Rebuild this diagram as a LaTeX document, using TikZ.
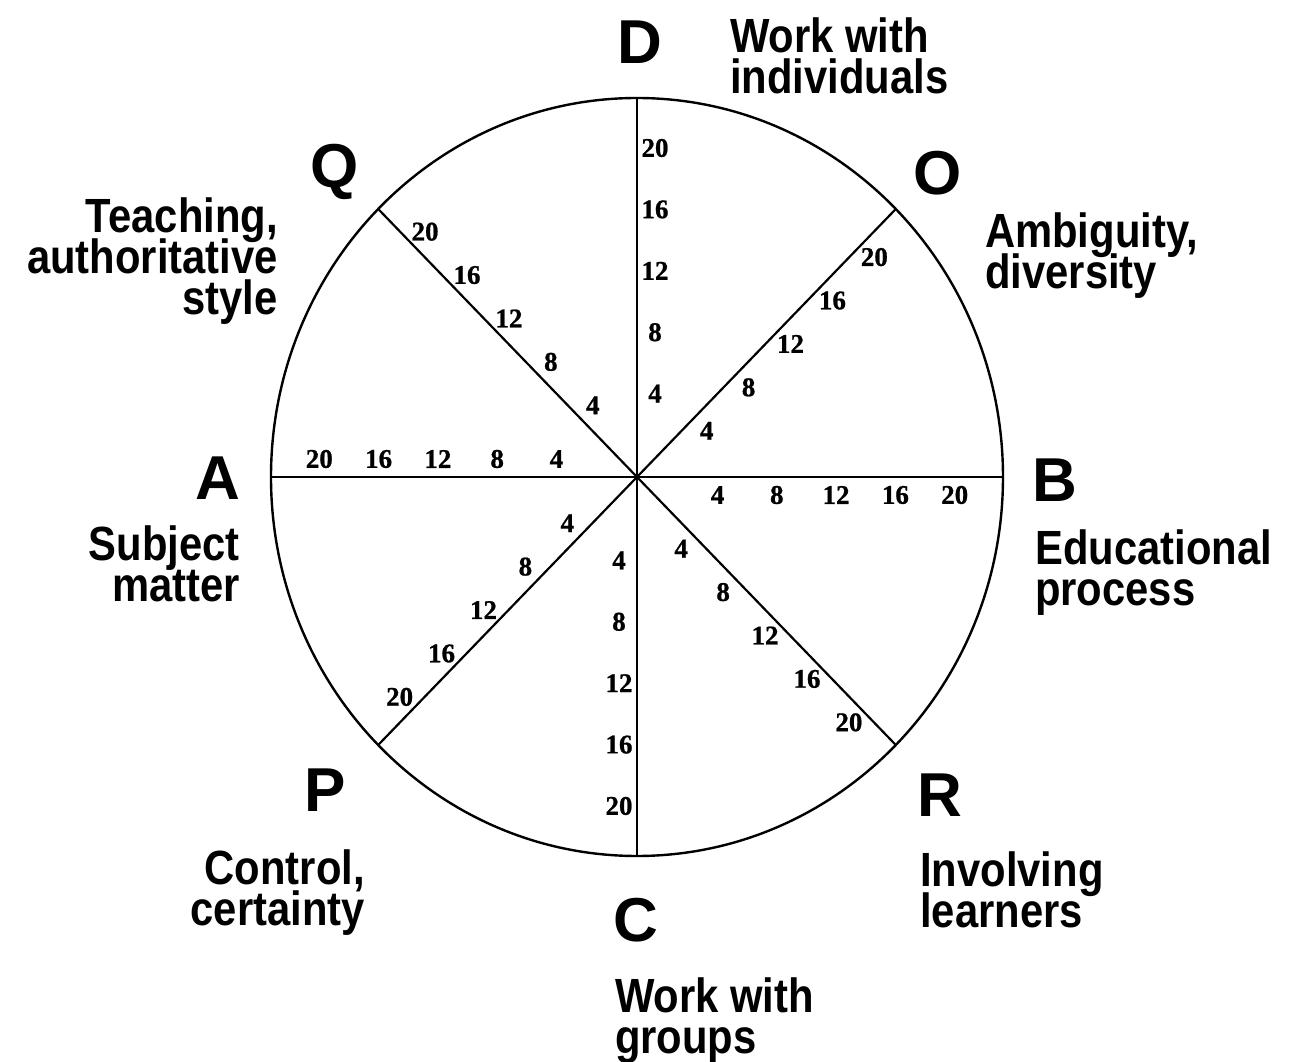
\documentclass[tikz,border=0pt]{standalone}
\usepackage{fontspec}
\setmainfont{Liberation Sans}
\newfontfamily\captionfont{Liberation Sans}[FakeStretch=0.87]
\newfontfamily\numfont{Liberation Serif}[FakeBold=0.8]
\newcommand\tightlines{\lineskiplimit=-100pt\relax}
\usetikzlibrary{calc}

\begin{document}
\begin{tikzpicture}[x=1pt,y=1pt,
  rim/.style={line width=2.4pt},
  spoke/.style={line width=2.2pt},
  pole/.style={font=\fontsize{62}{62}\selectfont\bfseries, inner sep=0pt},
  caption/.style={font=\captionfont\fontsize{48}{41}\selectfont\bfseries\tightlines, inner sep=0pt},
  tick/.style={font=\numfont\fontsize{27}{27}\selectfont\bfseries, inner sep=0pt}]
\useasboundingbox (-637,-585) rectangle (654,477);

% centre of the wheel and the ends of its eight spokes
\coordinate (ctr) at (0,0);
\foreach \a/\n in {90/d,45/o,0/b,-45/r,-90/c,-135/p,180/a,135/q}
  \coordinate (\n) at ({366*cos(\a)},{379*sin(\a)});

\draw[rim] (ctr) ellipse [x radius=366, y radius=379];
\foreach \n in {d,o,b,r,c,p,a,q}
  \draw[spoke] (ctr) -- (\n);

% scale marks, set beside each spoke (clockwise side)
\foreach \a/\n in {90/d,45/o,0/b,-45/r,-90/c,-135/p,180/a,135/q}
  \foreach \k [count=\i] in {4,8,12,16,20}
    \node[tick] (t\n\k) at ($({366*(0.22+0.162*(\i-1))*cos(\a)},{379*(0.22+0.162*(\i-1))*sin(\a)})+(\a-90:18)$) {\k};

% pole letters
\node[pole] (D) at (3,435) {D};
\node[pole] (Ol) at (301,304) {O};
\node[pole] (B) at (418,-3) {B};
\node[pole] (R) at (303,-318) {R};
\node[pole] (C) at (-1,-443) {C};
\node[pole] (P) at (-312,-313) {P};
\node[pole] (A) at (-419,-1) {A};
\node[pole] (Q) at (-302,305) {Q};

% pole descriptions
\node[caption, anchor=north west, align=left] (dD) at (93,459) {Work with\\individuals};
\node[caption, anchor=north west, align=left] (dO) at (348,264) {Ambiguity,\\diversity};
\node[caption, anchor=north west, align=left] (dB) at (398,-53) {Educational\\process};
\node[caption, anchor=north west, align=left] (dR) at (283,-375) {Involving\\learners};
\node[caption, anchor=north west, align=left] (dC) at (-22,-501) {Work with\\groups};
\node[caption, anchor=north east, align=right] (dP) at (-272,-373) {Control,\\certainty};
\node[caption, anchor=north east, align=right] (dA) at (-397,-49) {Subject\\matter};
\node[caption, anchor=north east, align=right] (dQ) at (-359,279) {Teaching,\\authoritative\\style};
\end{tikzpicture}
\end{document}
